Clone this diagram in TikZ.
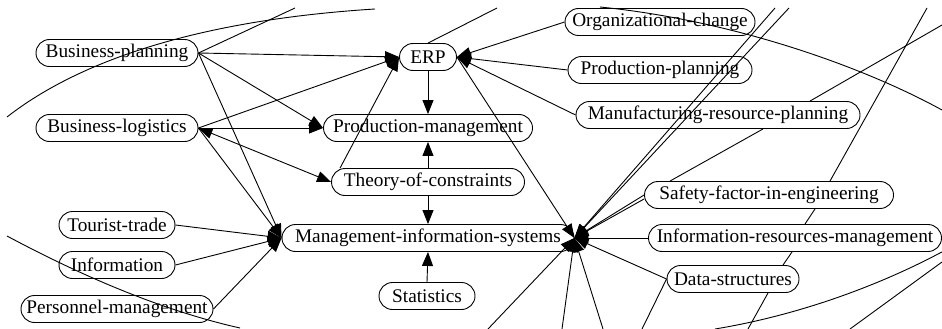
\documentclass[tikz,border=0pt]{standalone}
\usepackage{fontspec}
\setmainfont{Liberation Serif}
\usepackage{tikz}
\usetikzlibrary{
    arrows.meta
}
\tikzset{
    gvtip /.tip = {Triangle[
      length=14pt,
      width=11pt
    ]}
  }

\begin{document}
\begin{tikzpicture}[x=1pt,y=-1pt,line width=0.9pt,
	pill/.style={draw,rounded corners=13.5pt,minimum height=27pt,inner sep=0pt,font=\fontsize{19.3}{22}\selectfont},
	link/.style={-gvtip}]
				\useasboundingbox (0,0) rectangle (942,329);
				\node at (117,53) [pill,minimum width=162pt] (bplan) {Business-planning};
				\node at (117,128) [pill,minimum width=162pt] (blog) {Business-logistics};
				\node at (117,225) [pill,minimum width=116pt] (tour) {Tourist-trade};
				\node at (117,265) [pill,minimum width=116pt] (info) {Information};
				\node at (117,309) [pill,minimum width=192pt] (pers) {Personnel-management};
				\node at (428,57) [pill,minimum width=57pt] (erp) {ERP};
				\node at (428,128) [pill,minimum width=209pt] (pm) {Production-management};
				\node at (428,182) [pill,minimum width=193pt] (toc) {Theory-of-constraints};
				\node at (428,238) [pill,minimum width=292pt] (mis) {Management-information-systems};
				\node at (427,296) [pill,minimum width=96pt] (stat) {Statistics};
				\node at (660,22) [pill,minimum width=190pt] (oc) {Organizational-change};
				\node at (660,70) [pill,minimum width=184pt] (pp) {Production-planning};
				\node at (718,115) [pill,minimum width=284pt] (mrp) {Manufacturing-resource-planning};
				\node at (769,195) [pill,minimum width=249pt] (saf) {Safety-factor-in-engineering};
				\node at (795,238) [pill,minimum width=293pt] (irm) {Information-resources-management};
				\node at (733,279) [pill,minimum width=132pt] (ds) {Data-structures};
				\coordinate (n1) at (295,8);
				\coordinate (n2) at (497,8);
				\coordinate (n3) at (775,8);
				\coordinate (n4) at (789,8);
				\coordinate (n5) at (942,25);
				\coordinate (n6) at (927,8);
				\coordinate (n7) at (748,329);
				\coordinate (n8) at (642,329);
				\coordinate (n9) at (488,329);
				\coordinate (n10) at (562,329);
				\coordinate (n11) at (603,329);
				\coordinate (n12) at (715,329);
				\coordinate (n13) at (942,262);
				\coordinate (n14) at (850,329);
				\draw[link] (bplan.east) -- (erp.west);
				\draw[link] (bplan.east) -- (pm.west);
				\draw[link] (bplan.east) -- (mis.west);
				\draw (bplan.east) -- (n1);
				\draw[link] (blog.east) -- (erp.west);
				\draw[link] (blog.east) -- (pm.west);
				\draw[gvtip-gvtip] (blog.east) -- (toc.west);
				\draw[link] (blog.east) -- (mis.west);
				\draw[link] (tour.east) -- (mis.west);
				\draw[link] (info.east) -- (mis.west);
				\draw[link] (pers.east) -- (mis.west);
				\draw[link] ([xshift=9pt]toc.north west) -- (erp.west);
				\draw[link] (oc.west) -- (erp.east);
				\draw[link] (pp.west) -- (erp.east);
				\draw[link] (mrp.west) -- (erp.east);
				\draw[link] (erp.south) -- (pm.north);
				\draw[link] (toc.north) -- (pm.south);
				\draw[link] (toc.south) -- (mis.north);
				\draw[link] (stat.north) -- (mis.south);
				\draw (erp.north) -- (n2);
				\draw[link] (erp.east) -- (mis.east);
				\draw[link] (n3) -- (mis.east);
				\draw[link] (n4) -- (mis.east);
				\draw[link] (saf.west) -- (mis.east);
				\draw[link] ([yshift=-4pt]saf.west) -- (mis.east);
				\draw[link] (irm.west) -- (mis.east);
				\draw[link] (ds.west) -- (mis.east);
				\draw[link] (n9) -- (mis.east);
				\draw[link] (n10) -- (mis.east);
				\draw[link] (n11) -- (mis.east);
				\draw ([xshift=-99pt]saf.north) -- ([xshift=45pt]mrp.south);
				\draw ([xshift=92pt]mrp.north) -- (n5);
				\draw (n6) -- ([xshift=61pt]saf.north);
				\draw ([xshift=46pt]saf.south) -- ([xshift=10pt]irm.north);
				\draw ([xshift=-3pt]irm.south) -- ([xshift=50pt]ds.north);
				\draw ([xshift=35pt]ds.south) -- (n7);
				\draw (ds.west) -- (n8);
				\draw (irm.south east) .. controls (880,285) and (800,315) .. (n12);
				\draw (n13) -- (n14);
				\draw (7,117) .. controls (80,60) and (200,20) .. (375,9);
				\draw (7,236) .. controls (80,275) and (160,310) .. (240,328);
				\draw (600,7) .. controls (730,20) and (860,65) .. (942,110);
			\end{tikzpicture}
\end{document}
